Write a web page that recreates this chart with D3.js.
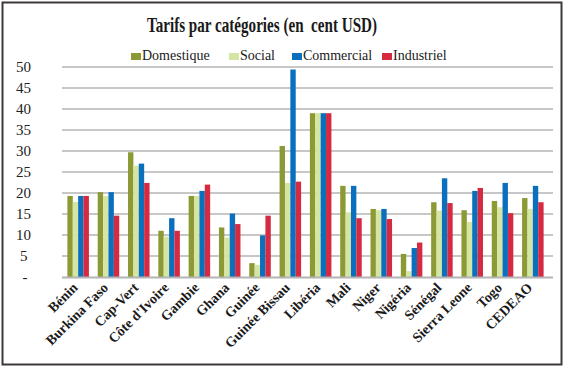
<!DOCTYPE html>
<html><head><meta charset="utf-8">
<script src="https://cdn.jsdelivr.net/npm/d3@7/dist/d3.min.js"></script>
<style>body{margin:0;background:#fff}svg{display:block}</style>
</head><body><svg id="c" width="567" height="370"></svg>
<script>
const categories = ["Bénin","Burkina Faso","Cap-Vert","Côte d'Ivoire","Gambie","Ghana","Guinée","Guinée Bissau","Libéria","Mali","Niger","Nigéria","Sénégal","Sierra Leone","Togo","CEDEAO"];
const seriesNames = ["Domestique","Social","Commercial","Industriel"];
const domestique = [19.3,20.2,29.7,11.0,19.3,11.8,3.3,31.2,39.0,21.7,16.2,5.5,17.8,15.9,18.1,18.8];
const social     = [17.9,19.3,26.5,9.6,19.3,9.4,2.9,22.4,39.0,15.4,15.9,1.4,15.8,13.1,16.6,16.2];
const commercial = [19.3,20.2,27.0,14.0,20.5,15.1,9.9,49.4,39.0,21.7,16.2,6.9,23.5,20.5,22.4,21.7];
const industriel = [19.3,14.6,22.4,11.0,22.0,12.6,14.6,22.7,39.0,14.0,13.8,8.2,17.6,21.2,15.2,17.8];
const yTicks = [0,5,10,15,20,25,30,35,40,45,50];
const yTickLabels = ["-","5","10","15","20","25","30","35","40","45","50"];
const colors = ["#8b9a34","#d5e5a3","#0a6fbd","#d52a42"];
const seriesValues = [domestique, social, commercial, industriel];

const svg = d3.select("#c");
svg.append("rect").attr("x",2.5).attr("y",2.5).attr("width",559).attr("height",362)
  .attr("fill","none").attr("stroke","#3c3838").attr("stroke-width",2);

const x = d3.scaleBand().domain(categories).range([63,548]).paddingInner(0.29).paddingOuter(0.145);
const xs = d3.scaleBand().domain(seriesNames).range([0,x.bandwidth()]);
const y = d3.scaleLinear().domain([0,50]).range([277,67]);

svg.append("g").selectAll("line").data(yTicks.filter(d=>d>0)).join("line")
  .attr("x1",62).attr("x2",553).attr("y1",d=>y(d)).attr("y2",d=>y(d))
  .attr("stroke","#b4b4b4").attr("stroke-width",1.5);

svg.append("g").selectAll("text").data(yTicks).join("text")
  .attr("x",d=>d>=10?31:27.5).attr("y",d=>y(d)+5).attr("text-anchor","end")
  .attr("font-family","'Liberation Serif', serif").attr("font-size",15).attr("fill","#222")
  .text((d,i)=>yTickLabels[i]);

const g = svg.append("g");
categories.forEach((c,ci)=>{
  seriesNames.forEach((s,si)=>{
    const v = seriesValues[si][ci];
    g.append("rect").attr("x",x(c)+xs(s)).attr("width",xs.bandwidth())
      .attr("y",y(v)).attr("height",y(0)-y(v)).attr("fill",colors[si]);
  });
});

svg.append("line").attr("x1",62).attr("x2",553).attr("y1",y(0)+0.5).attr("y2",y(0)+0.5)
  .attr("stroke","#b4b4b4").attr("stroke-width",2);

svg.append("g").selectAll("text").data(categories).join("text")
  .attr("transform",d=>`translate(${x(d)+x.bandwidth()/2-3},${285}) rotate(-45)`)
  .attr("text-anchor","end").attr("dy","0.35em")
  .attr("font-family","'Liberation Serif', serif").attr("font-weight","bold").attr("font-size",14)
  .attr("fill","#1a1a1a").text(d=>d);

svg.append("text").attr("x",262).attr("y",32).attr("text-anchor","middle")
  .style("white-space","pre")
  .attr("font-family","'Liberation Serif', serif").attr("font-weight","bold").attr("font-size",21)
  .attr("textLength",230).attr("lengthAdjust","spacingAndGlyphs").attr("fill","#1a1a1a")
  .text("Tarifs par catégories (en  cent USD)");

const legX = [131,229,292,382];
const leg = svg.append("g");
seriesNames.forEach((s,i)=>{
  leg.append("rect").attr("x",legX[i]).attr("y",53).attr("width",10).attr("height",7).attr("fill",colors[i]);
  leg.append("text").attr("x",legX[i]+11).attr("y",60)
    .attr("font-family","'Liberation Serif', serif").attr("font-size",14).attr("fill","#1a1a1a").text(s);
});
</script></body></html>
